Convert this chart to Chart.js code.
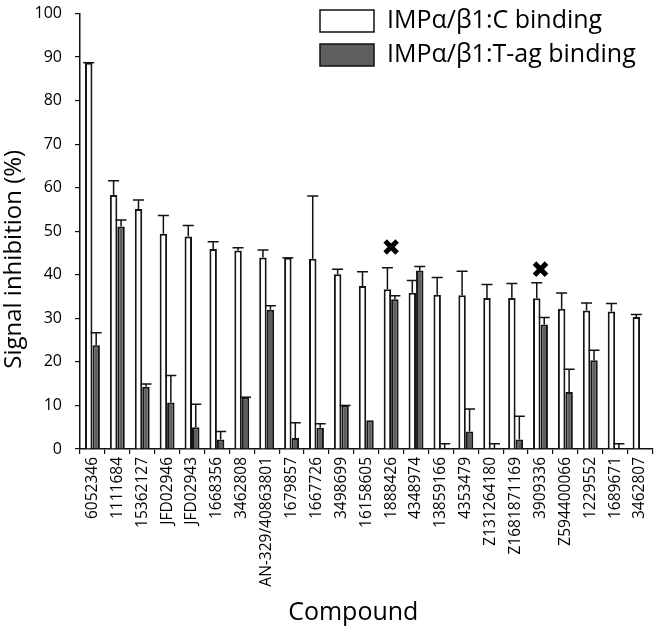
<!DOCTYPE html>
<html>
<head>
<meta charset="utf-8">
<script src="https://cdn.jsdelivr.net/npm/chart.js@4.4.1/dist/chart.umd.min.js"></script>
<style>
  body { margin: 0; background: #fff; }
  #wrap { width: 666px; height: 632px; position: relative; }
</style>
</head>
<body>
<div id="wrap"><canvas id="myChart"></canvas></div>
<script>
const compounds = ["6052346", "1111684", "15362127", "JFD02946", "JFD02943", "1668356", "3462808",
    "AN-329/40863801", "1679857", "1667726", "3498699", "16158605", "1888426", "4348974",
    "13859166", "4353479", "Z131264180", "Z1681871169", "3909336", "Z594400066", "1229552",
    "1689671", "3462807"];

// IMPα/β1:C binding
const cBinding = [88.7, 58.3, 55.1, 49.4, 48.8, 45.9, 45.6, 44.0, 43.9, 43.7, 40.1, 37.4,
    36.7, 35.9, 35.4, 35.3, 34.7, 34.7, 34.6, 32.2, 31.8, 31.6, 30.3];
const cError = [0, 3.3, 2.1, 4.2, 2.5, 1.7, 0.6, 1.7, 0, 14.4, 1.2, 3.3,
    4.9, 2.8, 4.0, 5.5, 3.1, 3.3, 3.6, 3.6, 1.7, 1.8, 0.6];

// IMPα/β1:T-ag binding
const tBinding = [23.8, 51.1, 14.3, 10.7, 5.0, 2.2, 11.9, 32.0, 2.5, 4.9, 10.0, 6.6,
    34.4, 41.0, 0, 4.0, 0, 2.2, 28.6, 13.1, 20.4, 0, null];
const tError = [2.9, 1.5, 0.6, 6.2, 5.3, 1.8, 0, 0.9, 3.5, 0.9, 0, null,
    0.8, 0.9, 1.2, 5.2, 1.2, 5.3, 1.6, 5.2, 2.3, 1.2, null];

// cross markers above selected compounds
const marks = [null, null, null, null, null, null, null, null, null, null, null, null,
    46.4, null, null, null, null, null, 41.3, null, null, null, null];

const yTicks = [0, 10, 20, 30, 40, 50, 60, 70, 80, 90, 100];

const fontFam = "'Open Sans', 'Noto Sans', sans-serif";

const errorBars = {
    id: 'errorBars',
    afterDatasetsDraw(chart) {
        const ctx = chart.ctx;
        const y = chart.scales.y;
        const errs = [cError, tError];
        ctx.save();
        ctx.strokeStyle = '#111';
        ctx.lineWidth = 1.5;
        [0, 1].forEach(di => {
            const meta = chart.getDatasetMeta(di);
            const vals = chart.data.datasets[di].data;
            meta.data.forEach((bar, i) => {
                const e = errs[di][i];
                if (e === null || vals[i] === null) return;
                const yb = y.getPixelForValue(vals[i]);
                const yt = y.getPixelForValue(vals[i] + e);
                ctx.beginPath();
                ctx.moveTo(bar.x, yb);
                ctx.lineTo(bar.x, yt);
                ctx.moveTo(bar.x - 5.5, yt);
                ctx.lineTo(bar.x + 5.5, yt);
                ctx.stroke();
            });
        });
        ctx.restore();
    }
};

const boxLegend = {
    id: 'boxLegend',
    afterDraw(chart) {
        const ctx = chart.ctx;
        ctx.save();
        ctx.font = '25px ' + fontFam;
        ctx.textBaseline = 'middle';
        [0, 1].forEach(di => {
            const ds = chart.data.datasets[di];
            const top = 10 + di * 34;
            ctx.fillStyle = ds.backgroundColor;
            ctx.fillRect(320, top, 54, 22);
            ctx.strokeStyle = '#111';
            ctx.lineWidth = 1.5;
            ctx.strokeRect(320, top, 54, 22);
            ctx.fillStyle = '#000';
            ctx.fillText(ds.label, 387, top + 11);
        });
        ctx.restore();
    }
};

const myChart = new Chart(document.getElementById('myChart'), {
    type: 'bar',
    data: {
        labels: compounds,
        datasets: [{
            label: 'IMPα/β1:C binding',
            data: cBinding,
            backgroundColor: '#ffffff',
            borderColor: '#151515',
            borderWidth: 2,
            categoryPercentage: 0.6,
            barPercentage: 1
        }, {
            label: 'IMPα/β1:T-ag binding',
            data: tBinding,
            backgroundColor: '#5e5e5e',
            borderColor: '#151515',
            borderWidth: 2,
            categoryPercentage: 0.6,
            barPercentage: 1
        }, {
            type: 'line',
            label: 'marks',
            data: marks,
            showLine: false,
            pointStyle: 'crossRot',
            pointRadius: 8.5,
            pointBorderWidth: 5,
            borderColor: '#000',
            backgroundColor: '#000'
        }]
    },
    options: {
        responsive: true,
        maintainAspectRatio: false,
        animation: false,
        layout: { padding: { top: 6, right: 2, left: 0, bottom: 0 } },
        plugins: {
            legend: { display: false },
            tooltip: { enabled: false }
        },
        scales: {
            x: {
                grid: { display: true, drawOnChartArea: false, drawTicks: true, tickLength: 5, color: '#111', lineWidth: 1.2 },
                border: { display: true, color: '#111', width: 1.5 },
                ticks: { minRotation: 90, maxRotation: 90, autoSkip: false, padding: 3, color: '#000', font: { size: 15.5, family: fontFam } },
                title: { display: true, text: 'Compound    ', color: '#000', font: { size: 25, family: fontFam }, padding: { top: 0, bottom: 4 } },
                afterFit(scale) {
                    scale.height = 183;
                    scale.paddingLeft = 0;
                    scale.paddingRight = 0;
                }
            },
            y: {
                min: 0,
                max: 100,
                afterBuildTicks(scale) {
                    scale.ticks = yTicks.map(v => ({ value: v }));
                },
                grid: { display: true, drawOnChartArea: false, drawTicks: true, tickLength: 5, color: '#111', lineWidth: 1.2 },
                border: { display: true, color: '#111', width: 1.5 },
                ticks: { padding: 13, color: '#000', font: { size: 16, family: fontFam } },
                title: { display: true, text: 'Signal inhibition (%)         ', color: '#000', font: { size: 24, family: fontFam }, padding: { top: 0, bottom: 0 } },
                afterFit(scale) {
                    scale.width = 80;
                    scale.paddingTop = 0;
                    scale.paddingBottom = 0;
                }
            }
        }
    },
    plugins: [errorBars, boxLegend]
});
</script>
</body>
</html>
